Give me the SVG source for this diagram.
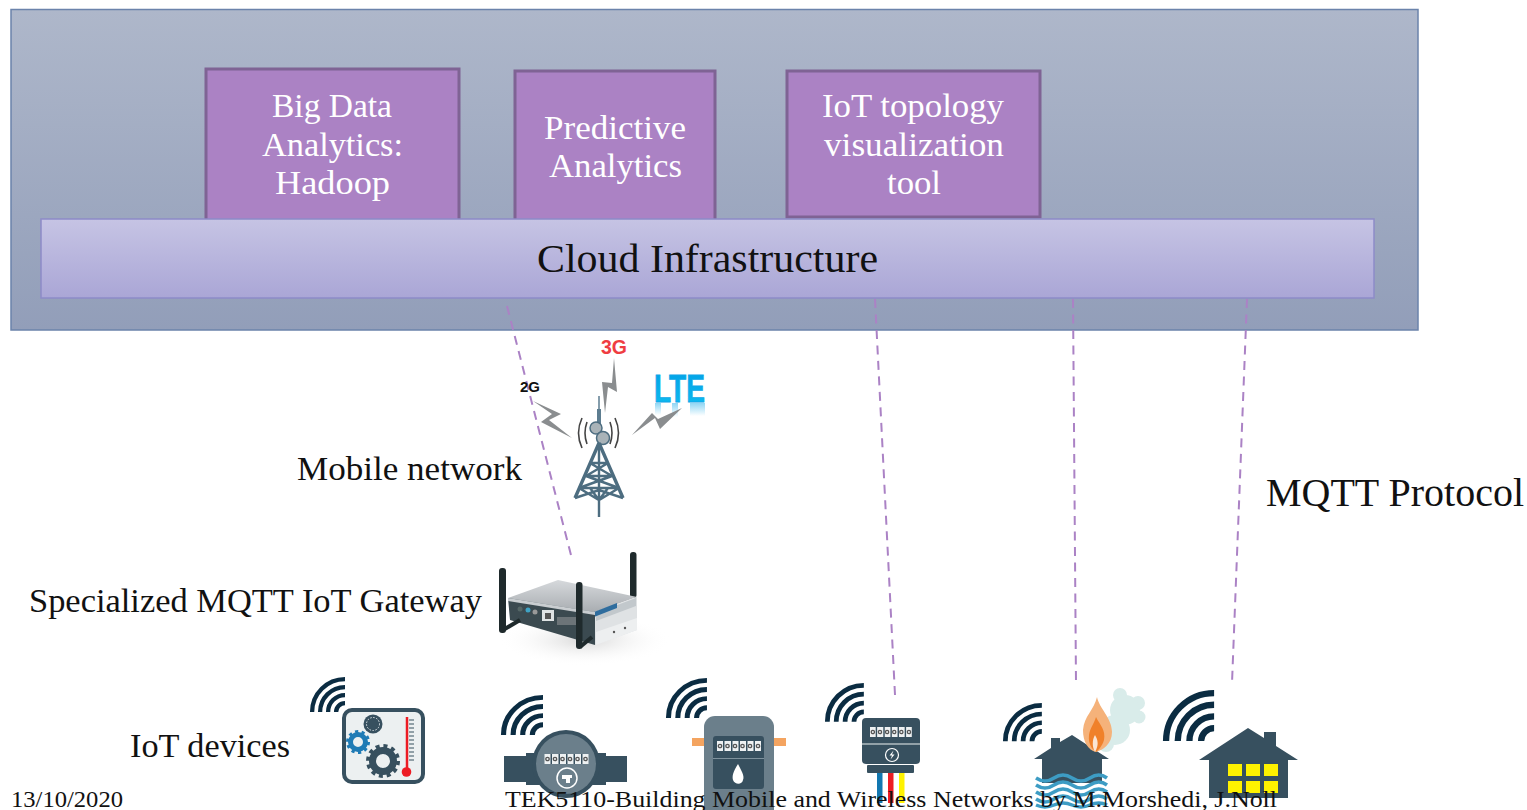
<svg xmlns="http://www.w3.org/2000/svg" width="1527" height="810" viewBox="0 0 1527 810">
<style>
text{font-family:"Liberation Serif","DejaVu Serif",serif;fill:#111}
.t32{font-size:33px;text-anchor:start}
.w{fill:#fff}
.wf{fill:none;stroke:#0b2c42;stroke-width:4.300}
.dk{fill:#37505f}
.md{fill:#6b7f8b}
.dash{fill:none;stroke:#ab82c5;stroke-width:2;stroke-dasharray:9 6.5}
.box{fill:#ab82c4;stroke:#7f6394;stroke-width:3}
.bolt{fill:#8a8d8f}
.tw{fill:none;stroke:#4d6d80;stroke-width:2.400}
</style>
<defs>
<linearGradient id="gp" x1="0" y1="0" x2="0" y2="1"><stop offset="0" stop-color="#aeb7ca"/><stop offset="1" stop-color="#929eb9"/></linearGradient>
<linearGradient id="gc" x1="0" y1="0" x2="0" y2="1"><stop offset="0" stop-color="#c6c4e4"/><stop offset="1" stop-color="#aaa6d6"/></linearGradient>
<linearGradient id="gl" x1="0" y1="0" x2="0" y2="1"><stop offset="0" stop-color="#00a0e6"/><stop offset="1" stop-color="#10bdf0"/></linearGradient>
<linearGradient id="gr" x1="0" y1="0" x2="0" y2="1"><stop offset="0" stop-color="#8fd6f4"/><stop offset="1" stop-color="#fff"/></linearGradient>
<linearGradient id="gs" x1="0" y1="0" x2="0" y2="1"><stop offset="0" stop-color="#d6d9dc"/><stop offset="1" stop-color="#a9adb1"/></linearGradient>
<radialGradient id="gsh"><stop offset="0" stop-color="#d8d8d8"/><stop offset="1" stop-color="#fff" stop-opacity="0"/></radialGradient>
<g id="wifi"><path class="wf" d="M2.100 35a32.900 32.900 0 0 1 32.900-32.900M10.100 35a24.900 24.900 0 0 1 24.900-24.900M18.100 35a16.900 16.900 0 0 1 16.900-16.900M26.100 35a8.900 8.900 0 0 1 8.900-8.900"/></g>
<g id="digits">
<rect width="44" height="10" fill="#eef1f2"/>
<g fill="#37505f"><rect x="6" width="1.500" height="10"/><rect x="14" width="1.500" height="10"/><rect x="21.500" width="1.500" height="10"/><rect x="29" width="1.500" height="10"/><rect x="36.500" width="1.500" height="10"/></g>
<g fill="none" stroke="#555" stroke-width="1.300"><circle cx="3" cy="5" r="1.700"/><circle cx="10.500" cy="5" r="1.700"/><circle cx="18" cy="5" r="1.700"/><circle cx="25.500" cy="5" r="1.700"/><circle cx="33" cy="5" r="1.700"/><circle cx="41" cy="5" r="1.700"/></g>
</g>
</defs>
<rect width="1527" height="810" fill="#fff"/>

<g id="cloud-panel"><rect x="11" y="9.500" width="1407" height="320.500" fill="url(#gp)" stroke="#6b83ab" stroke-width="1.500"/></g>
<g id="node-bigdata"><rect class="box" x="206" y="69" width="253" height="152"/>
<text x="272" y="117" class="t32 w" textLength="120" lengthAdjust="spacingAndGlyphs">Big Data</text>
<text x="262" y="156" class="t32 w" textLength="141" lengthAdjust="spacingAndGlyphs">Analytics:</text>
<text x="275" y="194" class="t32 w" textLength="115" lengthAdjust="spacingAndGlyphs">Hadoop</text></g>
<g id="node-predictive"><rect class="box" x="515" y="71" width="200" height="150"/>
<text x="544" y="139" class="t32 w" textLength="142" lengthAdjust="spacingAndGlyphs">Predictive</text>
<text x="549" y="177" class="t32 w" textLength="133" lengthAdjust="spacingAndGlyphs">Analytics</text></g>
<g id="node-topology"><rect class="box" x="787" y="71" width="253" height="146"/>
<text x="822" y="117" class="t32 w" textLength="182" lengthAdjust="spacingAndGlyphs">IoT topology</text>
<text x="824" y="156" class="t32 w" textLength="180" lengthAdjust="spacingAndGlyphs">visualization</text>
<text x="887" y="194" class="t32 w" textLength="54" lengthAdjust="spacingAndGlyphs">tool</text></g>
<g id="node-cloud"><rect x="41" y="219" width="1333" height="79" fill="url(#gc)" stroke="#8d8bc8" stroke-width="1.500"/>
<text x="537" y="272" font-size="40" textLength="341" lengthAdjust="spacingAndGlyphs">Cloud Infrastructure</text></g>

<g id="connectors">
<path class="dash" d="M507 306L571 555"/>
<path class="dash" d="M875 299L895 695"/>
<path class="dash" d="M1073 299L1076 683"/>
<path class="dash" d="M1247 299L1232 683"/>
</g>

<g id="node-tower">
<g fill="url(#gr)"><rect x="655" y="403" width="6" height="12"/><rect x="672" y="403" width="6" height="14"/><rect x="690" y="403" width="15" height="13"/></g>
<polygon class="bolt" points="533,401 561,414 549,420 572,438 541,422 552,414"/>
<polygon class="bolt" points="614,358 617,392 608,387 605,413 602,382 612,383"/>
<polygon class="bolt" points="682,408 660,429 655,418 632,435 652,413 658,419"/>
<text x="520" y="392" font-size="14" font-weight="700" style="font-family:'Liberation Sans',sans-serif" textLength="20" lengthAdjust="spacingAndGlyphs" fill="#111">2G</text>
<text x="601" y="354" font-size="21" font-weight="700" style="font-family:'Liberation Sans',sans-serif;fill:#ef3d42" textLength="26" lengthAdjust="spacingAndGlyphs">3G</text>
<text x="654" y="402" font-size="38" font-weight="700" style="font-family:'Liberation Sans',sans-serif;fill:url(#gl);stroke:#10a8e8;stroke-width:.8" textLength="51" lengthAdjust="spacingAndGlyphs">LTE</text>
<path d="M582 418q-7 15 0 30M587 422q-4 11 0 22M615 418q7 15 0 30M610 422q4 11 0 22" fill="none" stroke="#444" stroke-width="1.600"/>
<path d="M599 396V420" stroke="#5d7d90" stroke-width="1.500"/><path d="M599 409V425" stroke="#5d7d90" stroke-width="4"/>
<circle cx="596" cy="428" r="6" fill="#a9b3b8" stroke="#4d6d80" stroke-width="1.500"/>
<circle cx="603" cy="438" r="6.500" fill="#a9b3b8" stroke="#4d6d80" stroke-width="1.500"/>
<path class="tw" style="stroke-width:3.400" d="M599 443L575 498M599 443L623 498"/>
<path class="tw" d="M599 445V517M590 463H608M590 463L612 476M608 463L586 476M586 476H612M586 476L619 488M612 476L579 488M579 488H619M579 488L599 500L619 488M575 498L599 490L623 498M590 488L599 500L608 488"/>
</g>
<text x="297" y="480" class="t32" textLength="225" lengthAdjust="spacingAndGlyphs">Mobile network</text>
<text x="1266" y="506" font-size="40" textLength="258" lengthAdjust="spacingAndGlyphs">MQTT Protocol</text>

<g id="node-gateway">
<ellipse cx="585" cy="640" rx="86" ry="26" fill="url(#gsh)"/>
<rect x="630" y="552" width="6.500" height="46" rx="3" fill="#1f2a2c"/>
<polygon points="508,598 558,580 637,597 595,612" fill="url(#gs)"/>
<polygon points="595,612 637,597 637,630 595,645" fill="#dfe2e4"/>
<polygon points="596,613 636,598 636,606 596,621" fill="#c2c8cc"/>
<polygon points="594,612 617,603 617,608 594,617" fill="#2f6d9e"/>
<polygon points="596,632 637,618 637,630 596,645" fill="#edeff0"/>
<circle cx="614" cy="632" r="1.200" fill="#555"/><circle cx="625" cy="628" r="1.200" fill="#555"/>
<polygon points="508,598 595,612 595,645 510,620" fill="#3b4a50"/>
<polygon points="508,598 595,612 595,615 508,601" fill="#c9cdd0"/>
<rect x="542" y="610" width="12" height="11" fill="#dfe3e4"/><rect x="545" y="613" width="6" height="6" fill="#555"/>
<rect x="557" y="617" width="19" height="8" fill="#6c7478"/>
<circle cx="520" cy="609" r="2.500" fill="#566"/><circle cx="528" cy="610" r="2.500" fill="#3fa3c5"/><circle cx="535" cy="612" r="2.500" fill="#999"/>
<path d="M503 630L520 620" stroke="#1f2a2c" stroke-width="4"/><path d="M580 647L592 637" stroke="#1f2a2c" stroke-width="4"/>
<rect x="499" y="568" width="7" height="65" rx="3" fill="#1f2a2c"/>
<rect x="576" y="582" width="6.500" height="67" rx="3" fill="#1f2a2c"/>
</g>
<text x="29" y="612" class="t32" textLength="453" lengthAdjust="spacingAndGlyphs">Specialized MQTT IoT Gateway</text>
<text x="130" y="757" class="t32" textLength="160" lengthAdjust="spacingAndGlyphs">IoT devices</text>

<g id="node-thermostat">
<use href="#wifi" transform="translate(310 677)"/>
<rect x="344" y="710" width="79" height="72" rx="8" fill="#ecf0f1" stroke="#37505f" stroke-width="4"/>
<circle cx="383" cy="761" r="10.500" fill="none" stroke="#37505f" stroke-width="7"/>
<circle cx="383" cy="761" r="15" fill="none" stroke="#37505f" stroke-width="4" stroke-dasharray="4 3.850"/>
<circle cx="358" cy="742" r="7.500" fill="none" stroke="#1f7bb5" stroke-width="5"/>
<circle cx="358" cy="742" r="10.500" fill="none" stroke="#1f7bb5" stroke-width="3" stroke-dasharray="3.200 3.400"/>
<circle cx="373" cy="724" r="9.500" fill="#37505f"/>
<circle cx="373" cy="724" r="6.500" fill="none" stroke="#dfe5e8" stroke-width="1" stroke-dasharray="1.500 1.500"/>
<path d="M407 717V770" stroke="#ed1c24" stroke-width="2.500"/><circle cx="406.500" cy="772" r="4.800" fill="#ed1c24"/>
<path d="M409 720H414M409 724H414M409 728H414M409 732H414M409 736H414M409 740H414M409 744H414M409 748H414M409 752H414M409 756H414M409 760H414" stroke="#37505f" stroke-width="1"/>
</g>

<g id="node-water-meter">
<use href="#wifi" transform="translate(501 695) scale(1.2 1.14)"/>
<rect class="dk" x="504" y="756" width="123" height="26"/>
<rect class="dk" x="526" y="753" width="80" height="32"/>
<circle class="dk" cx="566" cy="764" r="34"/>
<circle class="md" cx="566" cy="764" r="30"/>
<use href="#digits" transform="translate(544.500 754)"/>
<circle cx="567" cy="778" r="10" fill="none" stroke="#fff" stroke-width="1.500"/>
<path d="M562 775H572V778H570V783H566V779H562Z" fill="#fff"/>
</g>

<g id="node-gas-meter">
<use href="#wifi" transform="translate(666 678) scale(1.17 1.14)"/>
<rect x="692" y="738" width="14" height="8" fill="#f4a460"/>
<rect x="772" y="738" width="14" height="8" fill="#f4a460"/>
<rect class="md" x="704" y="716" width="70" height="110" rx="11"/>
<rect class="dk" x="713" y="736" width="51" height="53" rx="3"/>
<use href="#digits" transform="translate(717 741)"/>
<rect x="713" y="758" width="51" height="1" fill="#7f929d"/>
<path d="M738 764C733 772 732 776 733 780C735 785 742 785 743 780C745 776 741 770 738 764Z" fill="#fff"/>
</g>

<g id="node-electric-meter">
<use href="#wifi" transform="translate(825 683) scale(1.11 1.11)"/>
<rect class="dk" x="862" y="718" width="58" height="46" rx="4"/>
<rect x="862" y="743.500" width="58" height="1" fill="#eef1f2"/>
<use href="#digits" transform="translate(870 727) scale(.95 1)"/>
<circle cx="892" cy="755" r="6.500" fill="none" stroke="#fff" stroke-width="1.200"/>
<path d="M893.500 750.500L889.500 755.500H892L890.500 759.500L894.500 754.500H892Z" fill="#fff"/>
<rect class="dk" x="867" y="765" width="47" height="8" rx="1"/>
<rect x="877" y="773" width="5.500" height="30" fill="#1277b0"/>
<rect x="888" y="773" width="5.500" height="30" fill="#ed1c24"/>
<rect x="899" y="773" width="5.500" height="30" fill="#fff200"/>
</g>

<g id="node-house-fire">
<use href="#wifi" transform="translate(1003 703) scale(1.11 1.09)"/>
<g fill="#d9ecea"><circle cx="1120" cy="695" r="7"/><circle cx="1138" cy="703" r="7"/><circle cx="1139" cy="717" r="6.500"/><circle cx="1125" cy="710" r="15"/><circle cx="1115" cy="730" r="15"/><circle cx="1106" cy="744" r="8"/></g>
<path class="dk" d="M1051 738H1060V742L1072 735L1109 759L1102 759V783H1042V759H1034L1051 748Z"/>
<path d="M1097 697C1099 708 1112 718 1112 732C1112 744 1103 750 1096 752C1088 750 1083 742 1083 730C1084 716 1094 710 1097 697Z" fill="#f5b27a"/>
<path d="M1096 717C1100 725 1106 730 1104 740C1102 747 1098 750 1096 752C1092 749 1088 744 1089 735C1090 728 1094 724 1096 717Z" fill="#f0812a"/>
<path d="M1095 735C1098 740 1099 745 1095 752C1092 747 1092 740 1095 735Z" fill="#fbe6d4"/>
<g fill="none" stroke="#3d9cc4" stroke-width="3.500">
<path d="M1036 778q9 6 18 0t18 0t18 0t17 0"/><path d="M1036 785q9 6 18 0t18 0t18 0t17 0"/><path d="M1036 792q9 6 18 0t18 0t18 0t17 0"/><path d="M1036 799q9 6 18 0t18 0t18 0t17 0"/><path d="M1036 805q9 4 18 0t18 0t18 0t17 0"/>
</g>
</g>

<g id="node-house">
<use href="#wifi" transform="translate(1163 690) scale(1.46 1.46)"/>
<path class="dk" d="M1264 732H1276V746L1298 760H1288V798H1209V760H1199L1248 728L1264 738Z"/>
<g fill="#fff200"><rect x="1228" y="764" width="14" height="12"/><rect x="1246" y="764" width="14" height="12"/><rect x="1264" y="764" width="14" height="12"/><rect x="1228" y="781" width="14" height="12"/><rect x="1246" y="781" width="14" height="12"/><rect x="1264" y="781" width="14" height="12"/></g>
</g>

<g id="footer">
<text x="11" y="807" font-size="24" textLength="112" lengthAdjust="spacingAndGlyphs">13/10/2020</text>
<text x="505" y="807" font-size="24" textLength="772" lengthAdjust="spacingAndGlyphs">TEK5110-Building Mobile and Wireless Networks by M.Morshedi, J.Noll</text>
</g>
</svg>
